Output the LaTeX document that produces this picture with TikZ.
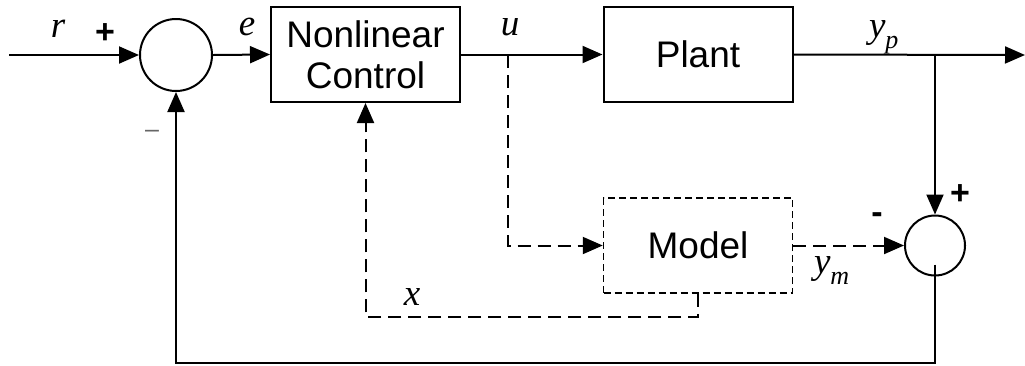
\documentclass[tikz,border=0pt]{standalone}
\usepackage{fontspec}
\setmainfont{Liberation Serif}
\setsansfont{Liberation Sans}
\usetikzlibrary{arrows.meta}
\newcommand\sublab[2]{{\itshape #1}\raisebox{-11pt}{\fontsize{26}{26}\selectfont\itshape #2}}
\begin{document}
\begin{tikzpicture}[x=1pt,y=-1pt,
  line width=2pt,
  arr/.style={-{Triangle[length=20pt,width=17pt]}},
  blk/.style={draw, rectangle, minimum width=189pt, minimum height=95pt, inner sep=0pt,
    font=\sffamily\fontsize{37}{41}\selectfont, align=center},
  sumnode/.style={draw, circle, inner sep=0pt},
  lab/.style={font=\itshape\fontsize{37}{37}\selectfont, inner sep=0pt, anchor=base},
  sgn/.style={font=\sffamily\bfseries\fontsize{34}{34}\selectfont, inner sep=0pt, anchor=base},
  dsh/.style={dash pattern=on 13pt off 7pt},
]
\useasboundingbox (0,0) rectangle (1025,365);

% nodes
\node[sumnode, minimum size=72pt] (sum1) at (176,55) {};
\node[blk] (nlc) at (365.5,54.5) {Nonlinear\\Control};
\node[blk] (plant) at (698,54.5) {Plant};
\node[blk, line width=1.5pt, dash pattern=on 7pt off 4pt] (model) at (698,245.5) {Model};
\node[sumnode, minimum size=60pt] (sum2) at (935,245.5) {};

\coordinate (in) at (9,55);
\coordinate (out) at (1025,55);
\coordinate (ub) at (508,55);
\coordinate (yb) at (935,55);
\coordinate (fb) at (935,363);

% connectors
\draw[arr] (in) -- (sum1.west);
\draw[arr] (sum1.east) -- (nlc.west);
\draw[arr] (nlc.east) -- (plant.west);
\draw[arr] (plant.east) -- (out);
\draw[arr] (yb) -- (sum2.north);
\draw[arr, dsh] (ub) |- (model.west);
\draw[arr, dsh] (model.east) -- (sum2.west);
\draw[arr, dsh] (model.south) -- ++(0,23) -| (nlc.south);
\draw[arr] ([yshift=12pt]sum2.south) -- (fb) -| (sum1.south);

% labels
\node[lab] (lr) at (58,37) {r};
\node[sgn] (p1) at (105,43) {+};
\node[lab] (le) at (247,35) {e};
\node[lab] (lu) at (510,35) {u};
\node[lab, anchor=base west] (lyp) at (868,37) {\sublab{y}{p}};
\node[lab, anchor=base west] (lym) at (813,273) {\sublab{y}{m}};
\node[lab] (lx) at (412,305) {x};
\node[font=\sffamily\fontsize{25}{25}\selectfont, text=black!60, inner sep=0pt, anchor=base] (m1) at (152,137) {–};
\node[sgn] (m2) at (877,223) {-};
\node[sgn] (p2) at (960,204) {+};
\end{tikzpicture}
\end{document}
